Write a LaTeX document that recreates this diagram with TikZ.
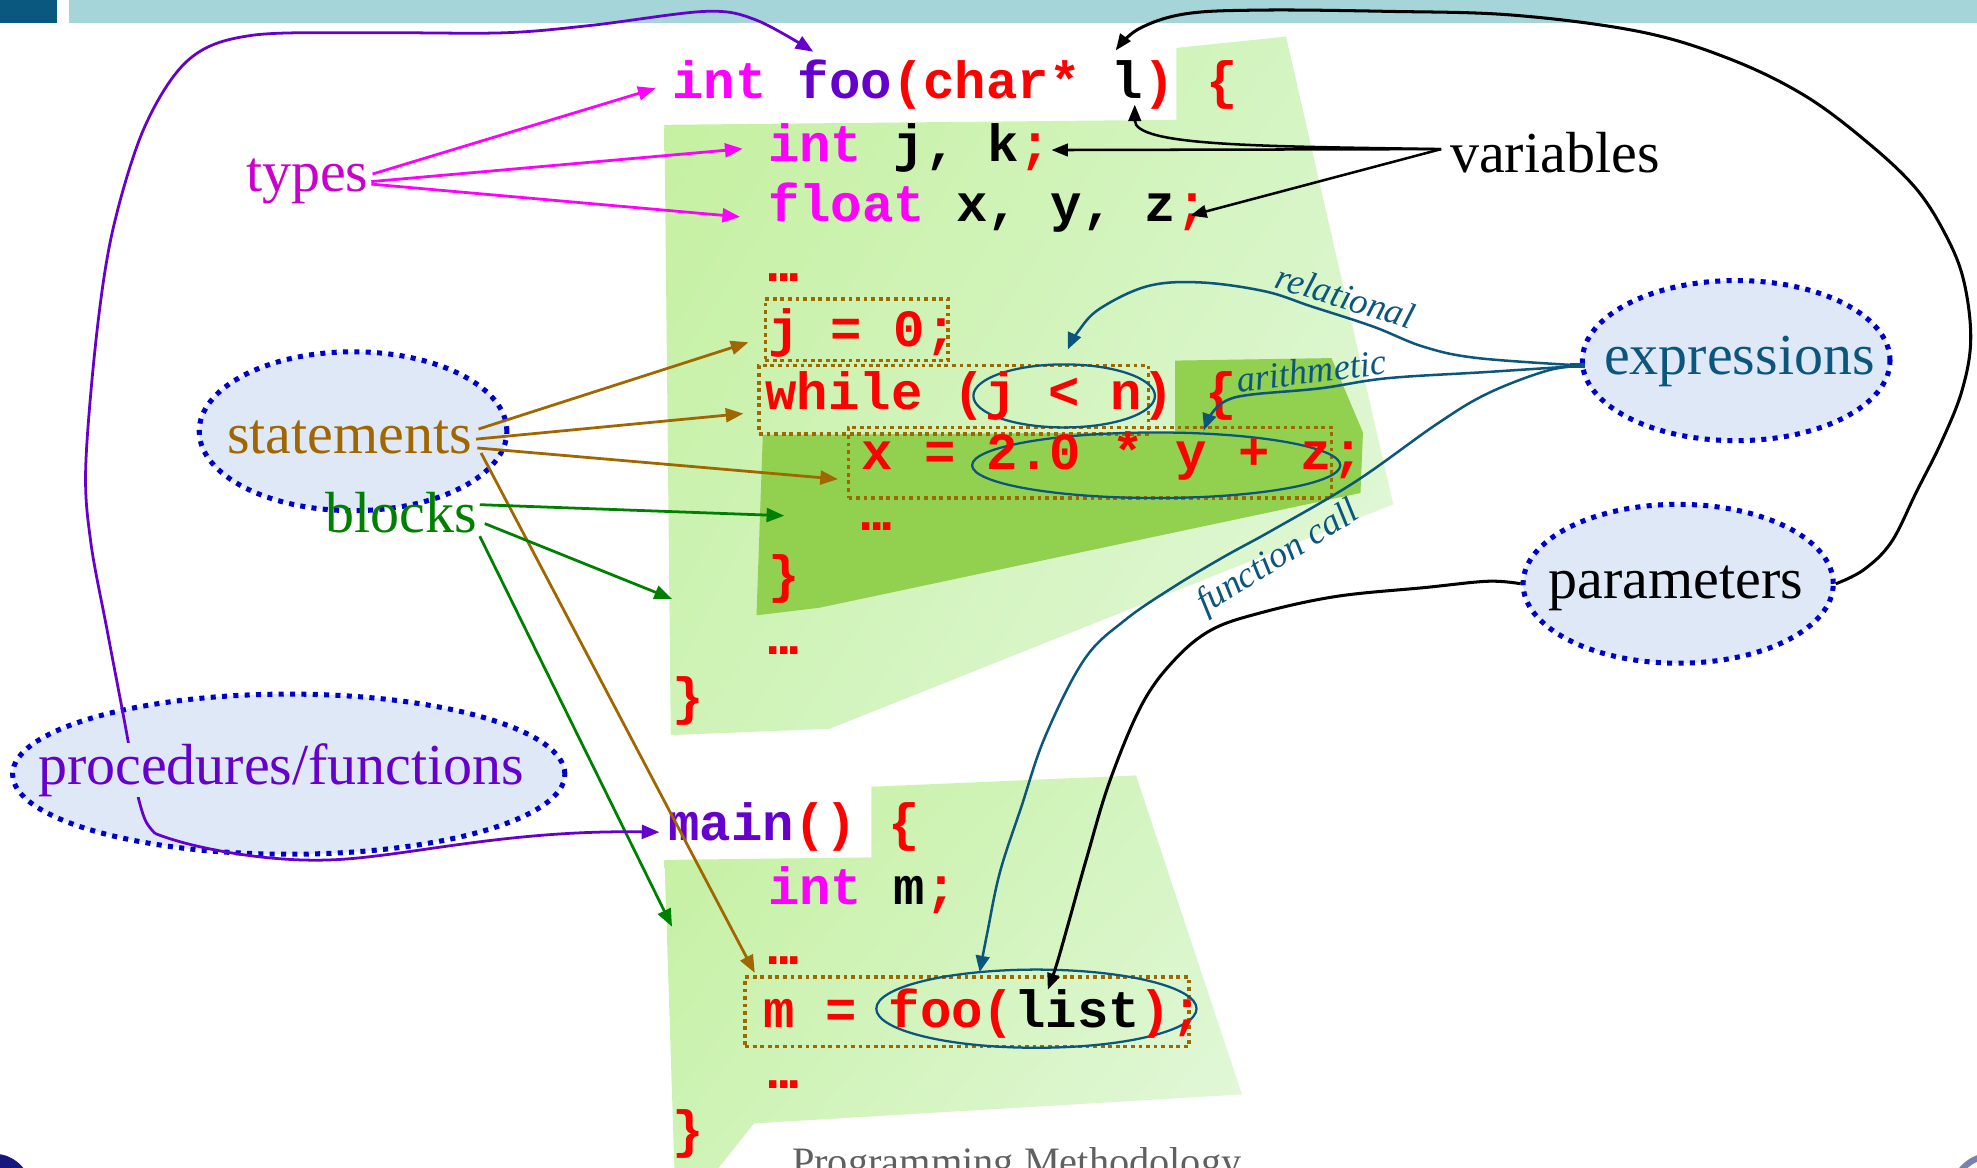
\documentclass[tikz,border=0pt]{standalone}
\usepackage{fontspec}
\setmainfont{Liberation Serif}
\newfontfamily\codefont{Liberation Mono}
\usetikzlibrary{arrows.meta,shapes.geometric,shadings}
\definecolor{hdrdark}{RGB}{10,88,128}
\definecolor{hdrteal}{RGB}{165,213,216}
\definecolor{kwmag}{RGB}{255,0,255}
\definecolor{typemag}{RGB}{204,0,204}
\definecolor{fnpurple}{RGB}{102,0,204}
\definecolor{codered}{RGB}{255,0,0}
\definecolor{stmtbrown}{RGB}{160,102,0}
\definecolor{blkgreen}{RGB}{0,128,0}
\definecolor{exprteal}{RGB}{12,86,126}
\definecolor{bubblefill}{RGB}{222,232,247}
\definecolor{bubbleline}{RGB}{0,0,204}
\definecolor{innergreen}{RGB}{146,208,80}
\definecolor{gUL}{RGB}{196,240,158}
\definecolor{gUR}{RGB}{214,245,198}
\definecolor{gLL}{RGB}{206,243,182}
\definecolor{gLR}{RGB}{228,248,220}
\definecolor{footgray}{RGB}{96,96,96}
\definecolor{sealnavy}{RGB}{22,24,128}
\definecolor{sealgray}{RGB}{120,130,175}
% three bold dots filling one character cell
\newcommand\codedots{\makebox[8.3pt]{.}\makebox[8.3pt]{.}\makebox[8.3pt]{.}}

\begin{document}
\begin{tikzpicture}[x=1pt,y=-1pt,
  code/.style={anchor=base west, inner sep=0pt, font=\codefont\bfseries\fontsize{41.5}{48}\selectfont},
  label/.style={anchor=base west, inner sep=0pt, font=\fontsize{46}{52}\selectfont},
  note/.style={inner sep=0pt, text=exprteal, font=\itshape\fontsize{29}{31}\selectfont},
  bubble/.style={ellipse, inner sep=0pt, fill=bubblefill, draw=bubbleline, line width=4pt, dash pattern=on 4pt off 5pt},
  stmtbox/.style={draw=stmtbrown, inner sep=0pt, line width=2.8pt, dash pattern=on 3pt off 3pt},
  ring/.style={ellipse, inner sep=0pt, draw=exprteal, line width=1.8pt},
  tipT/.style={-{Triangle[length=14pt,width=11pt]}},
  magline/.style={draw=kwmag, line width=2.2pt, tipT},
  brownline/.style={draw=stmtbrown, line width=2.2pt, tipT},
  greenline/.style={draw=blkgreen, line width=2.2pt, tipT},
  fnline/.style={draw=fnpurple, line width=2.2pt, tipT},
  varline/.style={draw=black, line width=2pt, -{Triangle[length=13pt,width=10pt]}},
  parline/.style={draw=black, line width=2.4pt, -{Triangle[length=13pt,width=10pt]}},
  exprline/.style={draw=exprteal, line width=2pt, -{Triangle[length=13pt,width=11pt]}},
  greenbody/.style={upper left=gUL, upper right=gUR, lower left=gLL, lower right=gLR}
]
\useasboundingbox (0,0) rectangle (1568,926);

% title bar
\fill[hdrdark] (0,0) rectangle (45,18);
\fill[hdrteal] (55,0) rectangle (1568,18);

% body of foo
\shade[greenbody]
  (527,99) -- (933,95) -- (933,38) -- (1020,29) -- (1105,400) -- (658,578) -- (532,583) -- cycle;
% body of the while loop
\fill[innergreen]
  (605,345) -- (932,343) -- (932,286) -- (1056,284) -- (1081,343) -- (1079,391) -- (650,482) -- (600,488) -- cycle;
% body of main
\shade[greenbody]
  (527,682) -- (691,680) -- (691,624) -- (901,615) -- (985,868) -- (598,891) -- (567,930) -- (535,930) -- cycle;

% statement frames
\node[stmtbox, minimum width=145pt, minimum height=49pt] (bJ) at (679.5,261.5) {};
\node[stmtbox, minimum width=309pt, minimum height=54pt] (bWhile) at (756.5,317) {};
\node[stmtbox, minimum width=383pt, minimum height=56pt] (bAssign) at (864.5,367) {};
\node[stmtbox, minimum width=352pt, minimum height=55pt] (bCall) at (767,802.5) {};

% expression rings
\node[ring, minimum width=144pt, minimum height=50pt] (rRel) at (844,314) {};
\node[ring, minimum width=292pt, minimum height=52pt] (rArith) at (917,369) {};
\node[ring, minimum width=254pt, minimum height=62pt] (rCall) at (822,800) {};

% program text
\node[code] (l1) at (533,78) {\textcolor{kwmag}{int} \textcolor{fnpurple}{foo}\textcolor{codered}{(char*} l\textcolor{codered}{) \{}};
\node[code] (l2) at (609,128) {\textcolor{kwmag}{int} j, k\textcolor{codered}{;}};
\node[code] (l3) at (609,176) {\textcolor{kwmag}{float} x, y, z\textcolor{codered}{;}};
\node[code, text=codered] (l4) at (609,223) {\codedots};
\node[code, text=codered] (l5) at (609,275) {j = 0;};
\node[code, text=codered] (l6) at (607,325) {while (j < n) \{};
\node[code, text=codered] (l7) at (683,372) {x = 2.0 * y + z;};
\node[code, text=codered] (l8) at (683,421) {\codedots};
\node[code, text=codered] (l9) at (609,470) {\}};
\node[code, text=codered] (l10) at (609,519) {\codedots};
\node[code, text=codered] (l11) at (533,567) {\}};
\node[code] (l12) at (530,667) {\textcolor{fnpurple}{main}\textcolor{codered}{() \{}};
\node[code] (l13) at (609,717) {\textcolor{kwmag}{int} m\textcolor{codered}{;}};
\node[code, text=codered] (l14) at (609,765) {\codedots};
\node[code, text=codered] (l15) at (605,815) {m = foo(\textcolor{black}{list});};
\node[code, text=codered] (l16) at (609,863) {\codedots};
\node[code, text=codered] (l17) at (533,910) {\}};

% concept bubbles
\node[bubble, minimum width=244pt, minimum height=126pt] (stmtE) at (280,342) {};
\node[bubble, minimum width=438pt, minimum height=127pt] (procE) at (229,614) {};
\node[bubble, minimum width=244pt, minimum height=127pt] (exprE) at (1377,286) {};
\node[bubble, minimum width=246pt, minimum height=126pt] (paramE) at (1331,463) {};

% concept names
\node[label, text=typemag] (types) at (195,152) {types};
\node[label] (vars) at (1150,137) {variables};
\node[label, text=stmtbrown] (stmt) at (180,360) {statements};
\node[label] (param) at (1228,475) {parameters};
\node[label, text=exprteal] (expr) at (1272,297) {expressions};

% arrow targets inside the program text
\coordinate (tInt1) at (520,70);
\coordinate (tInt2) at (589,118);
\coordinate (tFloat) at (587,172);
\coordinate (vK) at (834,119);
\coordinate (vZ) at (944,171);
\coordinate (vL) at (900,83);
\coordinate (pL) at (885,40);
\coordinate (pList) at (831,785);
\coordinate (fooTip) at (645,41);
\coordinate (mainTip) at (523,660);
\coordinate (procjoin) at (123,661);
\coordinate (blkWhile) at (622,409);
\coordinate (blkFoo) at (533,475);
\coordinate (blkMain) at (533,735);
\coordinate (relTip) at (847,277);
\coordinate (arithTip) at (955,341);
\coordinate (callTip) at (777,771);
\coordinate (exprFrom) at (1256,290);

% types
\draw[magline] ([shift={(3,-6)}]types.east) -- (tInt1);
\draw[magline] ([shift={(2,0)}]types.east) -- (tInt2);
\draw[magline] ([shift={(2,2)}]types.east) -- (tFloat);

% variables
\draw[varline] ([shift={(-7,-3)}]vars.west) -- (vK);
\draw[varline] ([shift={(-7,-3)}]vars.west) -- (vZ);
\draw[varline] ([shift={(-7,-3)}]vars.west) .. controls (1000,116) and (900,116) .. (vL);

% statements
\draw[brownline] ([shift={(5,-7)}]stmt.east) -- ([shift={(-12,10)}]bJ.west);
\draw[brownline] ([shift={(3,1)}]stmt.east) -- ([shift={(-11,11)}]bWhile.west);
\draw[brownline] ([shift={(4,8)}]stmt.east) -- ([shift={(-7,13)}]bAssign.west);
\draw[brownline] ([shift={(7,12)}]stmt.east) -- ([shift={(9,-2)}]bCall.north west);

% blocks
\node[label, text=blkgreen] (blocks) at (258,422) {blocks};
\draw[greenline] ([shift={(2,-6)}]blocks.east) -- (blkWhile);
\draw[greenline] ([shift={(6,9)}]blocks.east) -- (blkFoo);
\draw[greenline] ([shift={(2,19)}]blocks.east) -- (blkMain);

% procedures / functions
\draw[fnline] plot[smooth, tension=0.55] coordinates {(procjoin) (115,650) (108,625) (100,579) (85,500) (72,430) (68,370) (77,262) (90,180) (115,100) (150,47) (200,28) (300,26) (400,26) (470,20) (560,9) (600,16) (fooTip)};
\draw[fnline] (procjoin) .. controls (150,672) and (210,684) .. (262,682) .. controls (320,680) and (400,658) .. (mainTip);
\node[label, text=fnpurple, fill=bubblefill] (proc) at (30,622) {procedures/functions};

% expressions
\draw[exprline] plot[smooth, tension=0.6] coordinates {(exprFrom) (1172,284) (1129,275) (1089,259) (1040,243) (1003,231) (952,224) (910,227) (872,245) (855,263) (relTip)};
\draw[exprline] plot[smooth, tension=0.6] coordinates {(exprFrom) (1180,295) (1100,300) (1047,308) (992,313) (972,318) (961,328) (arithTip)};
\draw[exprline] plot[smooth, tension=0.6] coordinates {(exprFrom) (1227,294) (1180,312) (1140,336) (1075,382) (1010,420) (970,442) (930,466) (892,492) (860,523) (829,584) (810,640) (793,692) (783,740) (callTip)};
\draw[exprteal, line width=3.5pt] ([shift={(-8,4)}]exprE.west) -- ([shift={(4,4)}]exprE.west);
\node[note, rotate=-17] (relLbl) at (1067,235) {relational};
\node[note, rotate=7] (arithLbl) at (1040,294) {arithmetic};
\node[note, rotate=32] (callLbl) at (1014,443) {function call};

% parameters
\draw[parline] plot[smooth, tension=0.6] coordinates {(paramE.east) (1478,452) (1500,430) (1520,390) (1540,350) (1556,310) (1563,270) (1558,225) (1545,190) (1520,150) (1480,112) (1430,75) (1370,46) (1300,25) (1200,12) (1100,9) (1000,8) (940,11) (903,23) (pL)};
\draw[parline] plot[smooth, tension=0.6] coordinates {(paramE.west) (1180,461) (1130,466) (1060,473) (1000,486) (960,500) (930,525) (905,560) (880,620) (862,680) (848,730) (838,765) (pList)};

% footer
\node[anchor=base west, inner sep=0pt, text=footgray, font=\fontsize{32}{34}\selectfont] (foot) at (628,932) {Programming Methodology};
\fill[sealnavy] (-5,945) circle (30);
\fill[sealgray] (1580,948) circle (34);
\fill[white] (1580,948) circle (29);
\end{tikzpicture}
\end{document}
